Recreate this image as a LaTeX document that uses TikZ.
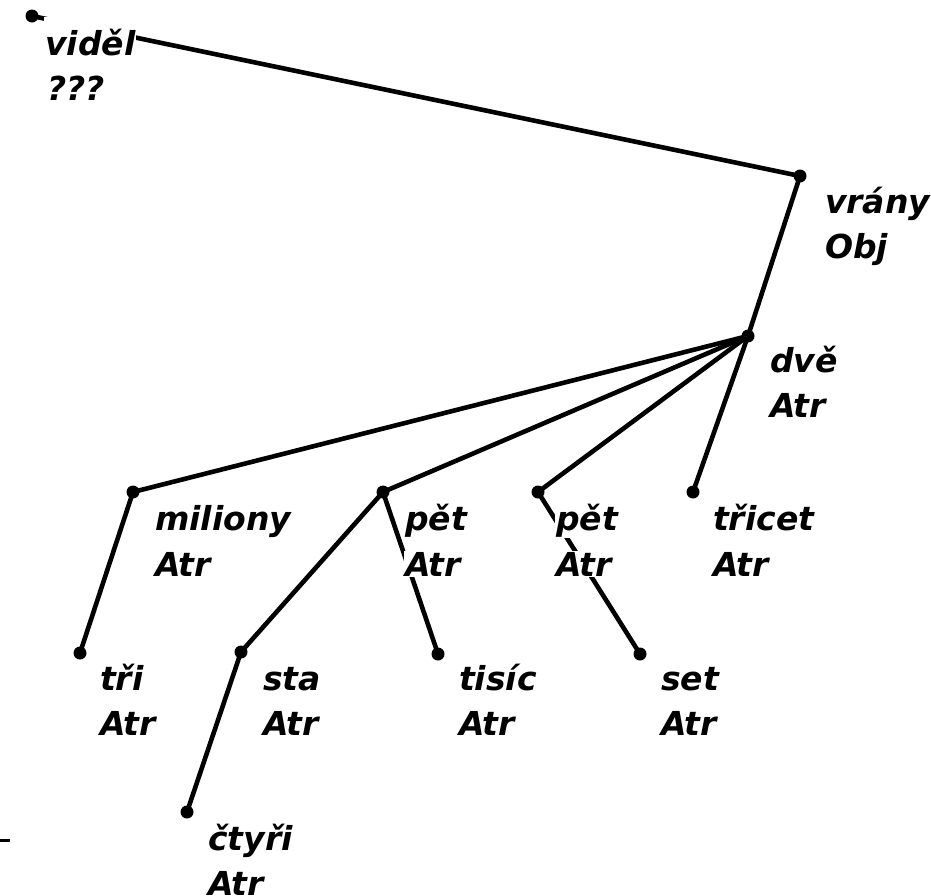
\documentclass[tikz,border=0pt]{standalone}
\usepackage{fontspec}
\newfontfamily\labfont{DejaVu Sans}
\begin{document}
\begin{tikzpicture}[x=1pt,y=-1pt,
  edge/.style={line width=4.6pt,line cap=round},
  dot/.style={circle,fill=black,inner sep=0pt,minimum size=13pt},
  lab/.style={anchor=base west,fill=white,inner sep=1pt,
    font=\labfont\bfseries\itshape\fontsize{33}{40}\selectfont}]
\useasboundingbox (0,0) rectangle (931,895);
\clip (0,0) rectangle (931,895);
% tree nodes (dots)
\coordinate (root) at (32,16);
\coordinate (vrany) at (800,176);
\coordinate (dve) at (748,336);
\coordinate (miliony) at (133,492);
\coordinate (petA) at (383,492);
\coordinate (petB) at (538,492);
\coordinate (tricet) at (693,492);
\coordinate (tri) at (80,653);
\coordinate (sta) at (241,652);
\coordinate (tisic) at (438,654);
\coordinate (set) at (640,654);
\coordinate (ctyri) at (187,812);
\coordinate (strayA) at (0,840);
\coordinate (strayB) at (10,840);
% edges
\draw[edge] (root) -- (vrany);
\draw[edge] (vrany) -- (dve);
\draw[edge] (dve) -- (miliony);
\draw[edge] (dve) -- (petA);
\draw[edge] (dve) -- (petB);
\draw[edge] (dve) -- (tricet);
\draw[edge] (miliony) -- (tri);
\draw[edge] (petA) -- (sta);
\draw[edge] (petA) -- (tisic);
\draw[edge] (petB) -- (set);
\draw[edge] (sta) -- (ctyri);
\draw[line width=3pt] (strayA) -- (strayB);
% dots
\foreach \n in {root,vrany,dve,miliony,petA,petB,tricet,tri,sta,tisic,set,ctyri}
  \node[dot] (d-\n) at (\n) {};
% labels
\node[lab,text height=37pt] (w-root) at (44,55) {viděl};
\node[lab] (f-root) at (46,100) {???};
\node[lab] (w-vrany) at (824,213) {vrány};
\node[lab] (f-vrany) at (824,258) {Obj};
\node[lab] (w-dve) at (769,372) {dvě};
\node[lab] (f-dve) at (769,417) {Atr};
\node[lab] (w-miliony) at (154,530) {miliony};
\node[lab] (f-miliony) at (154,576) {Atr};
\node[lab] (w-petA) at (404,530) {pět};
\node[lab] (f-petA) at (404,576) {Atr};
\node[lab] (w-petB) at (555,530) {pět};
\node[lab] (f-petB) at (555,576) {Atr};
\node[lab] (w-tricet) at (712,530) {třicet};
\node[lab] (f-tricet) at (712,576) {Atr};
\node[lab] (w-tri) at (99,690) {tři};
\node[lab] (f-tri) at (99,735) {Atr};
\node[lab] (w-sta) at (262,690) {sta};
\node[lab] (f-sta) at (262,735) {Atr};
\node[lab] (w-tisic) at (458,690) {tisíc};
\node[lab] (f-tisic) at (458,735) {Atr};
\node[lab] (w-set) at (660,690) {set};
\node[lab] (f-set) at (660,735) {Atr};
\node[lab] (w-ctyri) at (207,850) {čtyři};
\node[lab] (f-ctyri) at (207,895) {Atr};
\end{tikzpicture}
\end{document}
